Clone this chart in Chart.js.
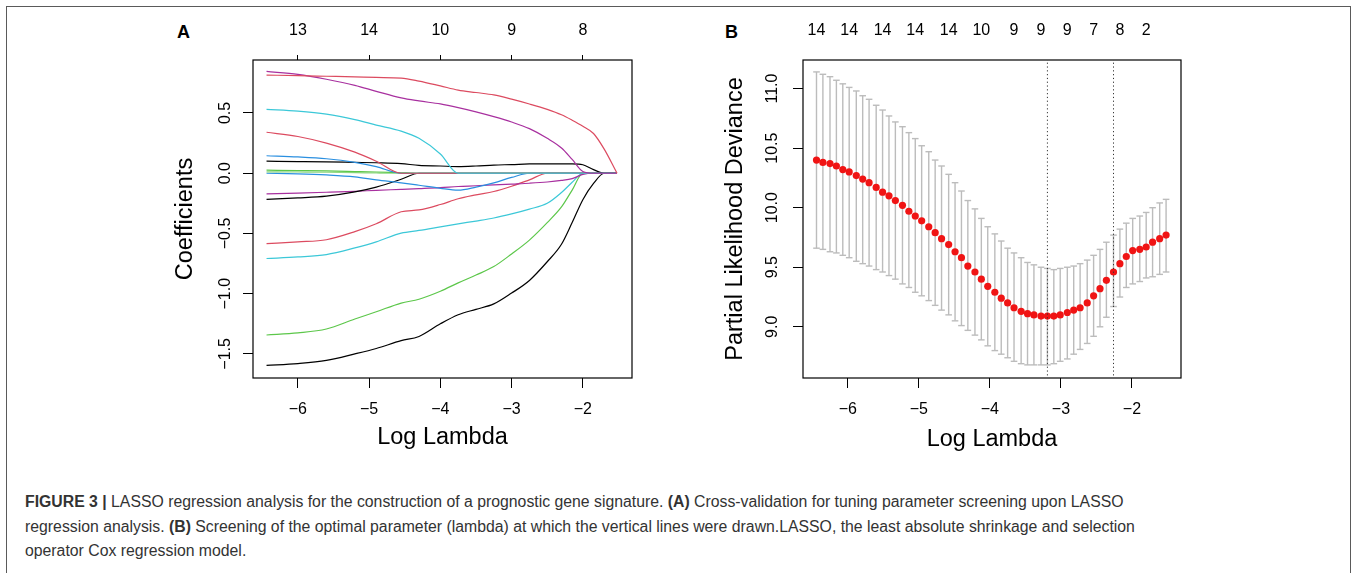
<!DOCTYPE html>
<html>
<head>
<meta charset="utf-8">
<script src="https://cdn.jsdelivr.net/npm/chart.js@4.4.1/dist/chart.umd.min.js"></script>
<style>
body { margin: 0; background: #fff; width: 1357px; height: 573px; overflow: hidden; position: relative; font-family: "Liberation Sans", Arial, sans-serif; }
#frame { position: absolute; left: 6px; top: 6px; width: 1345px; height: 620px; border: 1.5px solid #5a5a5a; box-sizing: border-box; }
canvas { position: absolute; top: 0; }
.tag { position: absolute; font-weight: bold; font-size: 18px; color: #000; line-height: 18px; }
#caption { position: absolute; left: 25px; top: 490px; font-size: 15.8px; line-height: 24.5px; color: #333; white-space: nowrap; }
</style>
</head>
<body>
<div id="frame"></div>
<div class="tag" style="left:177px; top:23px;">A</div>
<div class="tag" style="left:725px; top:23px;">B</div>
<canvas id="chartA" width="500" height="460" style="left:150px"></canvas>
<canvas id="chartB" width="500" height="460" style="left:700px"></canvas>
<div id="caption"><b>FIGURE 3 |</b> LASSO regression analysis for the construction of a prognostic gene signature. <b>(A)</b> Cross-validation for tuning parameter screening upon LASSO<br>regression analysis. <b>(B)</b> Screening of the optimal parameter (lambda) at which the vertical lines were drawn.LASSO, the least absolute shrinkage and selection<br>operator Cox regression model.</div>
<script>
var FONT = '"Liberation Sans", Arial, sans-serif';

// ---- panel A: coefficient paths (log lambda grid) ----
var pathX = [-6.44, -6.0, -5.6, -5.2, -4.9, -4.55, -4.3, -4.0, -3.75, -3.5, -3.25, -3.0, -2.75, -2.5, -2.3, -2.15, -2.0, -1.85, -1.7, -1.52];
var purpleTop = [0.845, 0.82, 0.78, 0.73, 0.68, 0.625, 0.60, 0.575, 0.545, 0.51, 0.47, 0.425, 0.37, 0.29, 0.21, 0.115, 0.015, 0, 0, 0];
var redTop = [0.815, 0.81, 0.805, 0.80, 0.795, 0.79, 0.765, 0.725, 0.69, 0.67, 0.65, 0.615, 0.575, 0.53, 0.485, 0.44, 0.39, 0.33, 0.20, 0];
var cyanTop = [0.53, 0.515, 0.49, 0.445, 0.40, 0.35, 0.29, 0.16, 0, 0, 0, 0, 0, 0, 0, 0, 0, 0, 0, 0];
var redMid = [0.34, 0.305, 0.25, 0.175, 0.10, 0, 0, 0, 0, 0, 0, 0, 0, 0, 0, 0, 0, 0, 0, 0];
var blueTop = [0.145, 0.135, 0.12, 0.09, 0.055, 0, 0, 0, 0, 0, 0, 0, 0, 0, 0, 0, 0, 0, 0, 0];
var blackTop = [0.10, 0.097, 0.094, 0.09, 0.087, 0.08, 0.065, 0.06, 0.055, 0.06, 0.068, 0.072, 0.077, 0.078, 0.078, 0.078, 0.07, 0.03, 0, 0];
var greenTop = [0.025, 0.022, 0.019, 0.014, 0.01, 0.004, 0, 0, 0, 0, 0, 0, 0, 0, 0, 0, 0, 0, 0, 0];
var greenNear = [0.012, 0.010, 0.008, 0.005, 0.002, 0, 0, 0, 0, 0, 0, 0, 0, 0, 0, 0, 0, 0, 0, 0];
var blueLow = [0.0, -0.005, -0.014, -0.03, -0.055, -0.08, -0.10, -0.125, -0.14, -0.115, -0.08, -0.035, 0, 0, 0, 0, 0, 0, 0, 0];
var blackLow = [-0.217, -0.205, -0.19, -0.155, -0.115, -0.05, 0, 0, 0, 0, 0, 0, 0, 0, 0, 0, 0, 0, 0, 0];
var purpleLow = [-0.172, -0.165, -0.158, -0.15, -0.142, -0.134, -0.128, -0.12, -0.11, -0.104, -0.097, -0.09, -0.083, -0.073, -0.06, -0.045, -0.01, 0, 0, 0];
var redLow = [-0.585, -0.57, -0.552, -0.485, -0.42, -0.32, -0.305, -0.26, -0.212, -0.18, -0.152, -0.108, -0.055, 0, 0, 0, 0, 0, 0, 0];
var cyanLow = [-0.708, -0.695, -0.675, -0.62, -0.57, -0.497, -0.475, -0.445, -0.42, -0.397, -0.372, -0.338, -0.298, -0.25, -0.16, -0.075, 0, 0, 0, 0];
var greenLow = [-1.343, -1.325, -1.293, -1.21, -1.15, -1.078, -1.046, -0.98, -0.91, -0.845, -0.775, -0.67, -0.555, -0.41, -0.28, -0.14, 0, 0, 0, 0];
var blackLowest = [-1.595, -1.58, -1.554, -1.50, -1.455, -1.39, -1.355, -1.25, -1.175, -1.13, -1.085, -0.995, -0.89, -0.735, -0.59, -0.41, -0.22, -0.085, 0, 0];
var topA = [-6, -5, -4, -3, -2];
var dfA = ['13', '14', '10', '9', '8'];

// ---- panel B: cross-validation curve ----
var lam = [-6.44, -6.35, -6.25, -6.16, -6.07, -5.98, -5.88, -5.79, -5.70, -5.60,
           -5.51, -5.42, -5.33, -5.23, -5.14, -5.05, -4.96, -4.86, -4.77, -4.68,
           -4.58, -4.49, -4.40, -4.31, -4.21, -4.12, -4.03, -3.93, -3.84, -3.75,
           -3.66, -3.56, -3.47, -3.38, -3.28, -3.19, -3.10, -3.01, -2.91, -2.82,
           -2.73, -2.63, -2.54, -2.45, -2.36, -2.26, -2.17, -2.08, -1.99, -1.89,
           -1.80, -1.71, -1.61, -1.52];
var cvm = [10.40, 10.38, 10.37, 10.35, 10.32, 10.30, 10.27, 10.24, 10.21, 10.17,
           10.13, 10.10, 10.06, 10.02, 9.97, 9.93, 9.89, 9.84, 9.79, 9.74,
           9.69, 9.63, 9.58, 9.51, 9.46, 9.40, 9.34, 9.29, 9.24, 9.20,
           9.16, 9.13, 9.11, 9.10, 9.09, 9.09, 9.09, 9.10, 9.12, 9.14,
           9.16, 9.20, 9.26, 9.32, 9.39, 9.46, 9.53, 9.59, 9.64, 9.65,
           9.67, 9.71, 9.74, 9.77];
var cvup = [11.14, 11.12, 11.10, 11.07, 11.04, 11.01, 10.98, 10.94, 10.91, 10.86,
            10.82, 10.77, 10.72, 10.68, 10.63, 10.58, 10.52, 10.47, 10.40, 10.35,
            10.28, 10.21, 10.14, 10.06, 9.99, 9.91, 9.84, 9.78, 9.72, 9.66,
            9.62, 9.58, 9.54, 9.52, 9.50, 9.49, 9.48, 9.49, 9.50, 9.51,
            9.53, 9.56, 9.60, 9.65, 9.71, 9.77, 9.82, 9.87, 9.91, 9.93,
            9.96, 10.00, 10.04, 10.07];
var cvlo = [9.66, 9.65, 9.63, 9.62, 9.60, 9.58, 9.55, 9.53, 9.51, 9.48,
            9.46, 9.43, 9.40, 9.36, 9.33, 9.29, 9.26, 9.22, 9.18, 9.14,
            9.10, 9.05, 9.01, 8.97, 8.93, 8.89, 8.84, 8.80, 8.77, 8.74,
            8.71, 8.69, 8.68, 8.68, 8.68, 8.68, 8.69, 8.71, 8.73, 8.77,
            8.81, 8.86, 8.92, 9.00, 9.08, 9.17, 9.25, 9.33, 9.36, 9.38,
            9.41, 9.42, 9.44, 9.46];
var topB = [-6.44, -5.98, -5.51, -5.05, -4.58, -4.12, -3.66, -3.28, -2.91, -2.54, -2.17, -1.80];
var dfB = ['14', '14', '14', '14', '14', '10', '9', '9', '9', '7', '8', '2'];
var lambdaMin = -3.19;
var lambda1se = -2.26;

var xMin = -6.63, xMax = -1.31;

function minus(s) { return String(s).replace('-', '\u2212'); }
function pts(xs, ys) { return xs.map(function (x, i) { return {x: x, y: ys[i]}; }); }

var boxPlugin = {
    id: 'box',
    afterDraw: function (chart) {
        var a = chart.chartArea, ctx = chart.ctx;
        ctx.save();
        ctx.strokeStyle = '#000';
        ctx.lineWidth = 1.2;
        ctx.strokeRect(a.left, a.top, a.right - a.left, a.bottom - a.top);
        ctx.restore();
    }
};

function baseScales(ymin, ymax, ytitle, ypad, bpad, topTicks, topLabels, topTick) {
    return {
        x: {
            type: 'linear', position: 'bottom', min: xMin, max: xMax,
            afterFit: function (s) { s.height = 82; },
            ticks: { stepSize: 1, includeBounds: false, maxRotation: 0, padding: 12, color: '#000',
                     font: { family: FONT, size: 16 }, callback: function (v) { return minus(v); } },
            grid: { drawOnChartArea: false, color: '#000', tickLength: 10 },
            border: { display: false },
            title: { display: true, text: 'Log Lambda', color: '#000', font: { family: FONT, size: 23.5 },
                     padding: { top: 0, bottom: bpad } }
        },
        xTop: {
            axis: 'x', type: 'linear', position: 'top', min: xMin, max: xMax,
            afterFit: function (s) { s.height = 60; },
            afterBuildTicks: function (s) { s.ticks = topTicks.map(function (v) { return {value: v}; }); },
            ticks: { autoSkip: false, maxRotation: 0, padding: topTick ? 15 : 20, color: '#000',
                     font: { family: FONT, size: 16 }, callback: function (v, i) { return topLabels[i]; } },
            grid: topTick ? { drawOnChartArea: false, color: '#000', tickLength: 5 } : { display: false, drawTicks: false },
            border: { display: false }
        },
        y: {
            min: ymin, max: ymax,
            afterFit: function (s) { s.width = 103; },
            ticks: { stepSize: 0.5, includeBounds: false, minRotation: 90, maxRotation: 90, crossAlign: 'center',
                     padding: ypad, color: '#000', font: { family: FONT, size: 16 },
                     callback: function (v) { return minus(v.toFixed(1)); } },
            grid: { drawOnChartArea: false, color: '#000', tickLength: 10 },
            border: { display: false },
            title: { display: true, text: ytitle, color: '#000', font: { family: FONT, size: 23.5 },
                     padding: { top: 21, bottom: 0 } }
        }
    };
}

function path(ys, color) {
    return { data: pts(pathX, ys), borderColor: color, borderWidth: 1.2, pointRadius: 0,
             cubicInterpolationMode: 'monotone', fill: false };
}

var RED = '#dc4b60', GREEN = '#5cc74a', BLUE = '#2a8fe0', CYAN = '#3cc8d8', PURPLE = '#a8309f';

new Chart(document.getElementById('chartA'), {
    type: 'line',
    data: {
        datasets: [
            path(redTop, RED), path(purpleTop, PURPLE), path(cyanTop, CYAN), path(redMid, RED),
            path(blueTop, BLUE), path(blackTop, '#000'), path(greenTop, GREEN), path(greenNear, '#8fd880'),
            path(blueLow, BLUE), path(blackLow, '#000'), path(purpleLow, PURPLE), path(redLow, RED),
            path(cyanLow, CYAN), path(greenLow, GREEN), path(blackLowest, '#000')
        ]
    },
    options: {
        responsive: false, animation: false,
        layout: { padding: { left: 0, right: 18, top: 0, bottom: 0 } },
        plugins: { legend: { display: false }, tooltip: { enabled: false } },
        scales: baseScales(-1.70, 0.94, 'Coefficients', 2, 8, topA, dfA, true)
    },
    plugins: [boxPlugin]
});

// error bars as broken line segments, caps as 'line' points
var barPts = [];
lam.forEach(function (x, i) {
    barPts.push({x: x, y: cvlo[i]}, {x: x, y: cvup[i]}, {x: x, y: null});
});

function vline(x) {
    return { data: [{x: x, y: 8.4}, {x: x, y: 11.4}], borderColor: '#333', borderWidth: 1,
             borderDash: [1.2, 2.6], pointRadius: 0 };
}

new Chart(document.getElementById('chartB'), {
    type: 'line',
    data: {
        datasets: [
            vline(lambdaMin), vline(lambda1se),
            { data: pts(lam, cvm), showLine: false, pointRadius: 3.6, pointBackgroundColor: '#f01414',
              pointBorderWidth: 0, pointBorderColor: '#f01414' },
            { data: pts(lam, cvup), showLine: false, pointStyle: 'line', pointRadius: 3.3,
              pointBorderColor: '#bcbcbc', pointBorderWidth: 1.4 },
            { data: pts(lam, cvlo), showLine: false, pointStyle: 'line', pointRadius: 3.3,
              pointBorderColor: '#bcbcbc', pointBorderWidth: 1.4 },
            { data: barPts, borderColor: '#bcbcbc', borderWidth: 1.4, pointRadius: 0, spanGaps: false }
        ]
    },
    options: {
        responsive: false, animation: false,
        layout: { padding: { left: 0, right: 19, top: 0, bottom: 0 } },
        plugins: { legend: { display: false }, tooltip: { enabled: false } },
        scales: baseScales(8.57, 11.24, 'Partial Likelihood Deviance', 5, 6, topB, dfB, false)
    },
    plugins: [boxPlugin]
});
</script>
</body>
</html>
